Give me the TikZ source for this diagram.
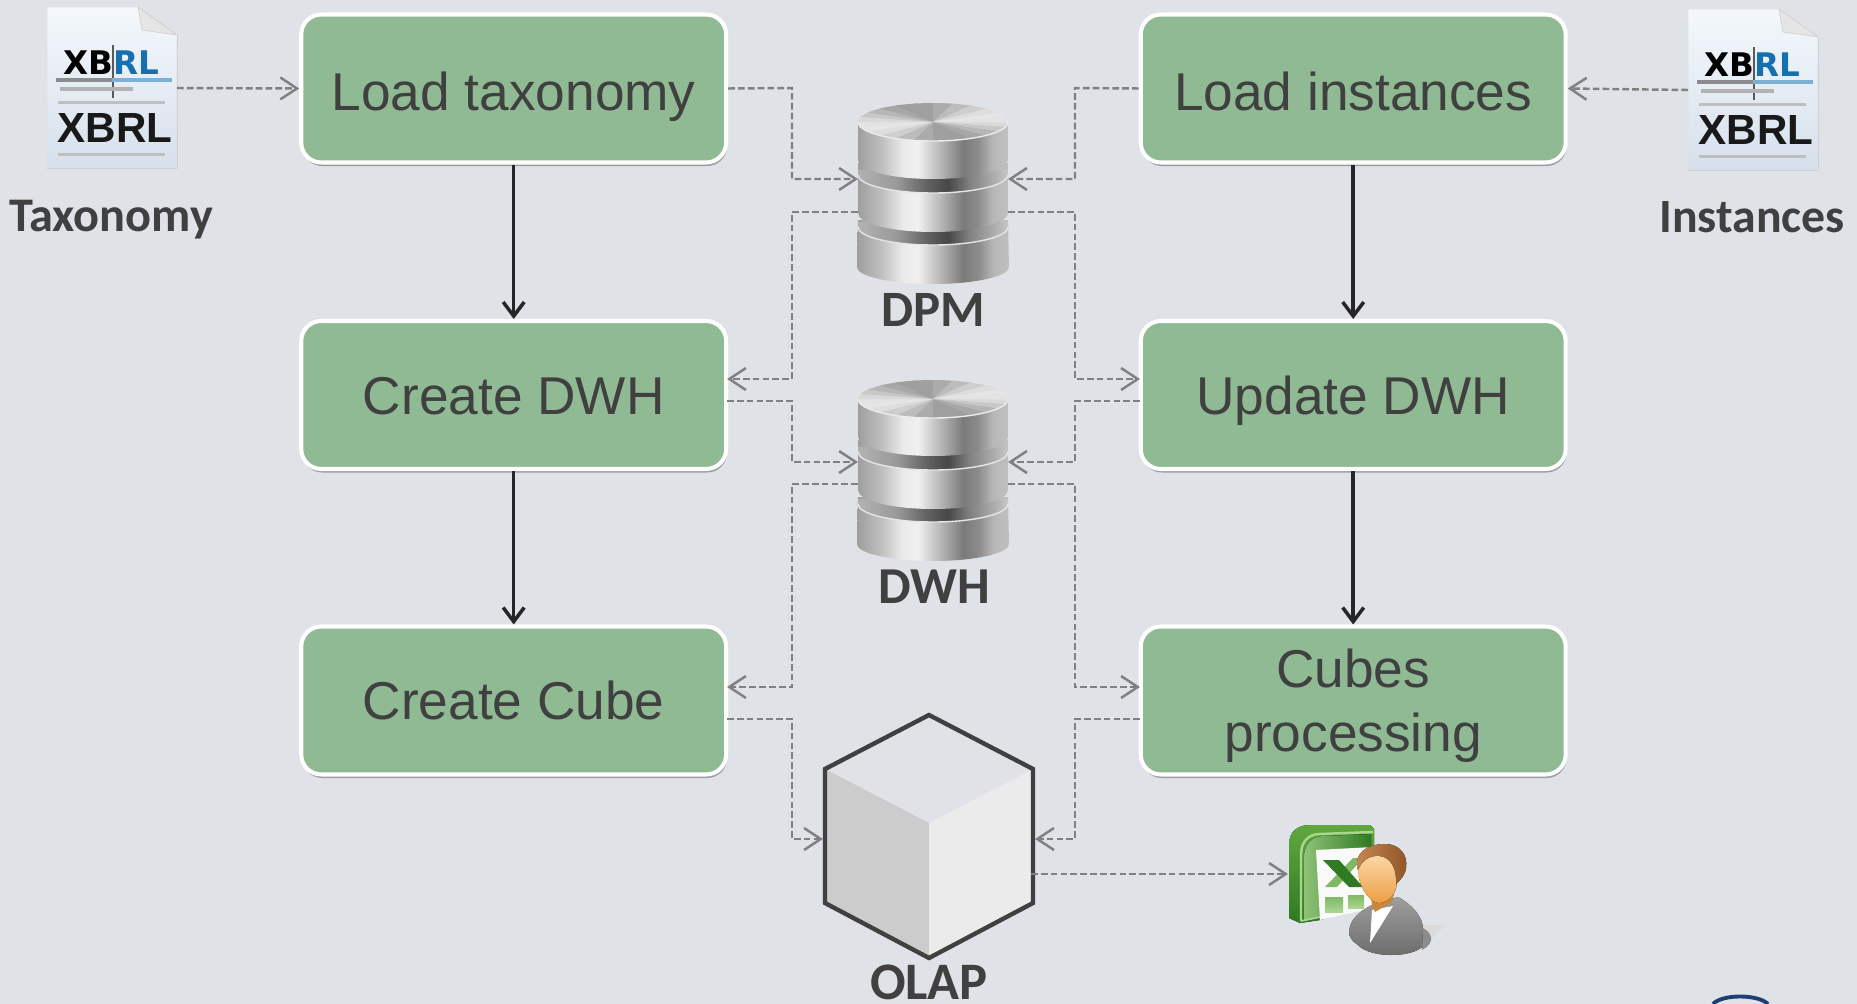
\documentclass[tikz,border=0pt]{standalone}
\usepackage{fontspec}
\setmainfont{Liberation Sans}
\newfontfamily\carlitofont{Carlito}
\newfontfamily\wideboldfont{DejaVu Sans Bold}
\usetikzlibrary{arrows.meta,shadows}

\definecolor{bgcol}{HTML}{DFE2E7}
\definecolor{boxcol}{HTML}{8FBA94}
\definecolor{inkcol}{HTML}{404040}
\definecolor{dashcol}{HTML}{808080}
\definecolor{flowcol}{HTML}{262626}
\definecolor{rlblue}{HTML}{1570B0}
\definecolor{ringblue}{HTML}{1F3F73}
\definecolor{pagetop}{HTML}{F4F8FC}
\definecolor{pagelow}{HTML}{D6E0EC}
\definecolor{xlmid}{HTML}{5FA83E}
\definecolor{xldark}{HTML}{2F7A22}
\definecolor{xllight}{HTML}{A9D68F}
\definecolor{skinlight}{HTML}{FCDDB0}
\definecolor{skindark}{HTML}{EE9F45}
\definecolor{hairlight}{HTML}{C98A55}
\definecolor{hairdark}{HTML}{8F5526}

\pgfdeclarehorizontalshading{dbside}{100bp}{color(0bp)=(black!38); color(25bp)=(black!38); color(33bp)=(black!25); color(40bp)=(black!8); color(45bp)=(black!6); color(53bp)=(black!30); color(60bp)=(black!52); color(65bp)=(black!45); color(70bp)=(black!28); color(75bp)=(black!25); color(100bp)=(black!25)}
\pgfdeclarehorizontalshading{dbband}{100bp}{color(0bp)=(black!30); color(25bp)=(black!30); color(38bp)=(black!40); color(48bp)=(black!62); color(55bp)=(black!72); color(62bp)=(black!50); color(75bp)=(black!22); color(100bp)=(black!22)}

\tikzset{
  stepbox/.style={draw=white, fill=boxcol, line width=2.3pt, rounded corners=.4cm,
    minimum width=8.5cm, minimum height=2.96cm, align=center, text=inkcol,
    text height=22pt, text depth=0pt,
    font=\fontsize{30.3}{36.4}\selectfont,
    drop shadow={shadow xshift=.6pt, shadow yshift=-2pt, opacity=.3, fill=black}},
  iconlabel/.style={text=inkcol, inner sep=0pt, font=\carlitofont\bfseries\fontsize{#1}{#1}\selectfont},
  dataflow/.style={draw=dashcol, line width=1.4pt, dash pattern=on 3.8pt off 1.8pt,
    -{Straight Barb[length=9.5pt,width=12.5pt,line width=1.4pt]}},
  stepflow/.style={draw=flowcol, line width=2pt,
    -{Straight Barb[length=8pt,width=12pt,line width=2pt]}},
  anchorbox/.style={inner sep=0pt, outer sep=0pt},
  % page with the two logos
  xbrldoc/.pic={
    \fill[top color=pagetop, bottom color=pagelow, draw=black!12]
      (-65,-81) -- (26,-81) -- (65,-53) -- (65,80) -- (-65,80) -- cycle;
    \fill[black!10, draw=black!18] (26,-81) -- (30,-58) -- (65,-53) -- cycle;
    \draw[black!65, line width=.8pt] (1,-43) -- (1,10);
    \node[inner sep=0pt, font=\wideboldfont\fontsize{18.5}{19}\selectfont] (-top) at (-1,-25)
      {XB\textcolor{rlblue}{RL}};
    \fill[black!45] (-56,-10) rectangle (0,-6);
    \fill[rlblue!55] (0,-10) rectangle (60,-6);
    \fill[black!30] (-52,-1) rectangle (21,3);
    \fill[black!25] (-54,13) rectangle (53,16);
    \node[inner sep=0pt, font=\bfseries\fontsize{24}{25}\selectfont, text=black!90] (-low) at (3,40) {XBRL};
    \fill[black!25] (-54,65) rectangle (53,68);
  },
  % three stacked silver discs
  dbstack/.pic={
    \shade[shading=dbside] (-75,117) -- (-76,164) arc[start angle=180,end angle=0,x radius=76,y radius=17] -- (75,117) -- cycle;
    \shade[shading=dbband] (-75,119) -- (-75,124) arc[start angle=180,end angle=0,x radius=75,y radius=18] -- (75,119) -- cycle;
    \draw[black!10, line width=.8pt] (-75,124) arc[start angle=180,end angle=0,x radius=75,y radius=18];
    \shade[shading=dbside] (-75,60) -- (-75,110) arc[start angle=180,end angle=0,x radius=75,y radius=19] -- (75,60) -- cycle;
    \shade[shading=dbband] (-75,67) -- (-75,72) arc[start angle=180,end angle=0,x radius=75,y radius=18] -- (75,67) -- cycle;
    \draw[black!10, line width=.8pt] (-75,72) arc[start angle=180,end angle=0,x radius=75,y radius=18];
    \shade[shading=dbside] (-75,19) -- (-75,57) arc[start angle=180,end angle=0,x radius=75,y radius=19] -- (75,19) -- cycle;
    \foreach \a in {0,15,...,345} {
      \pgfmathsetmacro\g{24-14*cos(2*\a+50)}
      \fill[black!\g] (0,19) -- ({75*cos(\a)},{19+19*sin(\a)})
        arc[start angle=\a,delta angle=17,x radius=75,y radius=19] -- cycle;
    }
    \draw[black!8, line width=.8pt] (-75,19) arc[start angle=180,end angle=0,x radius=75,y radius=19];
  }
}

\begin{document}
\begin{tikzpicture}[x=.02cm,y=-.02cm]
  \useasboundingbox[fill=bgcol] (0,0) rectangle (1857,1004);

  % process boxes
  \node[stepbox, text height=24.5pt] (loadtax) at (513.7,88.5) {Load taxonomy};
  \node[stepbox] (createdwh) at (513.7,395) {Create DWH};
  \node[stepbox] (createcube) at (513.7,700.5) {Create Cube};
  \node[stepbox, text height=24.5pt] (loadinst) at (1353.2,88.5) {Load instances};
  \node[stepbox] (updatedwh) at (1353.2,395) {Update DWH};
  \node[stepbox, text height=58.5pt] (cubeproc) at (1353.2,700.5) {Cubes\\processing};

  \draw[stepflow] (loadtax) -- (createdwh);
  \draw[stepflow] (createdwh) -- (createcube);
  \draw[stepflow] (loadinst) -- (updatedwh);
  \draw[stepflow] (updatedwh) -- (cubeproc);

  % documents
  \pic (taxdoc) at (112,88) {xbrldoc};
  \pic (instdoc) at (1753,90) {xbrldoc};
  \node[anchorbox, minimum width=2.6cm, minimum height=3.2cm] (taxpage) at (112,88) {};
  \node[anchorbox, minimum width=2.6cm, minimum height=3.2cm] (instpage) at (1753,90) {};
  \node[iconlabel=27.5] (taxlabel) at (111,219.5) {Taxonomy};
  \node[iconlabel=27.2] (instlabel) at (1752,217) {Instances};

  % databases
  \pic at (933,103) {dbstack};
  \pic at (933,380) {dbstack};
  \node[iconlabel=29] (dpmlabel) at (933,310) {DPM};
  \node[iconlabel=29.5] (dwhlabel) at (934,587) {DWH};

  % cube
  \fill[black!20] (825,769) -- (929,823) -- (929,958) -- (825,903) -- cycle;
  \fill[black!8] (1033,769) -- (929,823) -- (929,958) -- (1033,903) -- cycle;
  \draw[inkcol, line width=2.5pt, line join=miter] (929,715) -- (1033,769) -- (1033,903) -- (929,958) -- (825,903) -- (825,769) -- cycle;
  \node[iconlabel=30] (olaplabel) at (929,982) {OLAP};

  % spreadsheet
  \fill[top color=xlmid, bottom color=xldark] (1289,845) .. controls (1289,832) and (1297,825) .. (1310,825) -- (1370,825) -- (1374,829) -- (1374,905) -- (1320,920) -- (1300,923) -- (1289,918) -- cycle;
  \fill[left color=xlmid!70!white, right color=xldark] (1304,920) -- (1304,858) .. controls (1304,844) and (1312,836) .. (1324,836) -- (1371,834) -- (1371,908) -- cycle;
  \draw[xllight, line width=1.4pt] (1301,921) -- (1301,855) .. controls (1301,842) and (1308,834) .. (1320,834) -- (1373,832);
  \draw[xllight, line width=1pt] (1301,921) -- (1320,917);
  \fill[black!2] (1316,850) -- (1373,847) -- (1373,908) -- (1320,920) -- cycle;
  \fill[xlmid!80!white] (1353,858) -- (1363,858) -- (1337,887) -- (1325,887) -- cycle;
  \fill[xldark] (1323,860) -- (1339,860) -- (1363,887) -- (1349,887) -- cycle;
  \fill[top color=xlmid!80!white, bottom color=xllight] (1325,897) rectangle (1343,912);
  \fill[top color=xlmid!80!white, bottom color=xllight] (1348,895) rectangle (1364,908);

  % user
  \fill[black!14] (1423,925) -- (1445,925) -- (1432,938) -- (1422,947) -- cycle;
  \fill[black!45] (1423,928) .. controls (1434,934) and (1434,944) .. (1422,950) -- cycle;
  \fill[top color=black!38, bottom color=black!58] (1349,932) .. controls (1350,920) and (1358,912) .. (1372,905) -- (1398,897) .. controls (1412,905) and (1423,916) .. (1423,930) -- (1422,947) .. controls (1410,958) and (1370,958) .. (1358,945) .. controls (1352,941) and (1349,937) .. (1349,932) -- cycle;
  \fill[white] (1372,910) -- (1393,906) -- (1370,943) -- cycle;
  \fill[skindark!85!black] (1370,890) -- (1396,885) -- (1392,902) -- (1375,912) -- (1372,905) -- cycle;
  \fill[top color=skinlight, bottom color=skindark] (1358,868) .. controls (1358,858) and (1366,850) .. (1380,850) .. controls (1392,852) and (1398,868) .. (1397,882) .. controls (1396,895) and (1388,903) .. (1378,903) .. controls (1367,900) and (1358,885) .. (1358,868) -- cycle;
  \fill[left color=hairlight, right color=hairdark] (1358,870) .. controls (1353,855) and (1365,844) .. (1385,844) .. controls (1400,844) and (1408,855) .. (1406,868) .. controls (1405,876) and (1400,880) .. (1396,884) .. controls (1397,870) and (1392,858) .. (1380,856) .. controls (1370,855) and (1362,860) .. (1358,870) -- cycle;

  % named ends of the dashed lines
  \coordinate (dpmin1) at (858,179);
  \coordinate (dpmin2) at (1008,179);
  \coordinate (dpmout1) at (858,212);
  \coordinate (dpmout2) at (1008,212);
  \coordinate (dwhin1) at (858,462);
  \coordinate (dwhin2) at (1008,462);
  \coordinate (dwhout1) at (858,484);
  \coordinate (dwhout2) at (1008,484);
  \coordinate (cubein1) at (823,839);
  \coordinate (cubein2) at (1035,839);
  \coordinate (cubeout) at (1031,874);
  \coordinate (sheetin) at (1288,874);

  \draw[dataflow] (taxpage.east) -- (loadtax.west);
  \draw[dataflow] (instpage.west) -- (loadinst.east);
  \draw[dataflow] (loadtax.east) -- (792,88) |- (dpmin1);
  \draw[dataflow] (loadinst.west) -- (1075,88) |- (dpmin2);
  \draw[dataflow] (dpmout1) -- (792,212) |- (727,379);
  \draw[dataflow] (dpmout2) -- (1075,212) |- (1140,379);
  \draw[dataflow] (727,401) -- (792,401) |- (dwhin1);
  \draw[dataflow] (1140,401) -- (1075,401) |- (dwhin2);
  \draw[dataflow] (dwhout1) -- (792,484) |- (727,687);
  \draw[dataflow] (dwhout2) -- (1075,484) |- (1140,687);
  \draw[dataflow] (727,719) -- (792,719) |- (cubein1);
  \draw[dataflow] (1140,719) -- (1075,719) |- (cubein2);
  \draw[dataflow] (cubeout) -- (sheetin);

  % edge of the seal at the foot
  \draw[ringblue, line width=2.2pt] (1713,1004) .. controls (1722,994) and (1758,994) .. (1768,1004);
\end{tikzpicture}
\end{document}
